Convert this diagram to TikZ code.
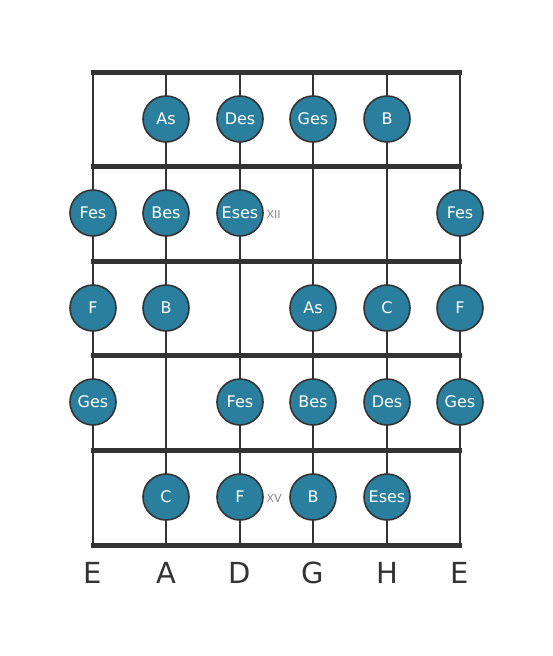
\documentclass[tikz,border=0pt]{standalone}
\usepackage{fontspec}
\setmainfont{DejaVu Sans}
\definecolor{fret}{HTML}{333333}
\definecolor{dot}{HTML}{2A7F9E}
\definecolor{fmark}{HTML}{888888}
\begin{document}
\begin{tikzpicture}[x=1pt,y=-1pt,
  stringline/.style={draw=fret,line width=2.6pt},
  fretline/.style={draw=fret,line width=5pt},
  note/.style={circle,fill=dot,draw=fret,line width=1.6pt,minimum size=46pt,inner sep=0pt,text=white,font=\fontsize{16}{16}\selectfont},
  fretnum/.style={text=fmark,font=\fontsize{11}{11}\selectfont,anchor=west},
  strname/.style={text=fret,font=\fontsize{29}{29}\selectfont}]
\useasboundingbox (0,0) rectangle (553,656);
\foreach \x [count=\i] in {93,166,240,313,387,460} {
  \coordinate (s\i t) at (\x,72);
  \coordinate (s\i b) at (\x,545);
  \draw[stringline] (s\i t) -- (s\i b);
}
\foreach \y [count=\j] in {72,166,261,355,450,545} {
  \coordinate (f\j l) at (91,\y);
  \coordinate (f\j r) at (462,\y);
  \draw[fretline] (f\j l) -- (f\j r);
}
% row 1
\node[note] (n1a) at (166,119) {As};
\node[note] (n1b) at (240,119) {Des};
\node[note] (n1c) at (313,119) {Ges};
\node[note] (n1d) at (387,119) {B};
% row 2
\node[note] (n2a) at (93,213) {Fes};
\node[note] (n2b) at (166,213) {Bes};
\node[note] (n2c) at (240,213) {Eses};
\node[note] (n2d) at (460,213) {Fes};
\node[fretnum] (xii) at (263,214) {XII};
% row 3
\node[note] (n3a) at (93,308) {F};
\node[note] (n3b) at (166,308) {B};
\node[note] (n3c) at (313,308) {As};
\node[note] (n3d) at (387,308) {C};
\node[note] (n3e) at (460,308) {F};
% row 4
\node[note] (n4a) at (93,402) {Ges};
\node[note] (n4b) at (240,402) {Fes};
\node[note] (n4c) at (313,402) {Bes};
\node[note] (n4d) at (387,402) {Des};
\node[note] (n4e) at (460,402) {Ges};
% row 5
\node[note] (n5a) at (166,497) {C};
\node[note] (n5b) at (240,497) {F};
\node[note] (n5c) at (313,497) {B};
\node[note] (n5d) at (387,497) {Eses};
\node[fretnum] (xv) at (263,498) {XV};
% string names
\foreach \x/\n [count=\i] in {93/E,166/A,240/D,313/G,387/H,460/E} {
  \node[strname] (l\i) at (\x,573) {\n};
}
\end{tikzpicture}
\end{document}
